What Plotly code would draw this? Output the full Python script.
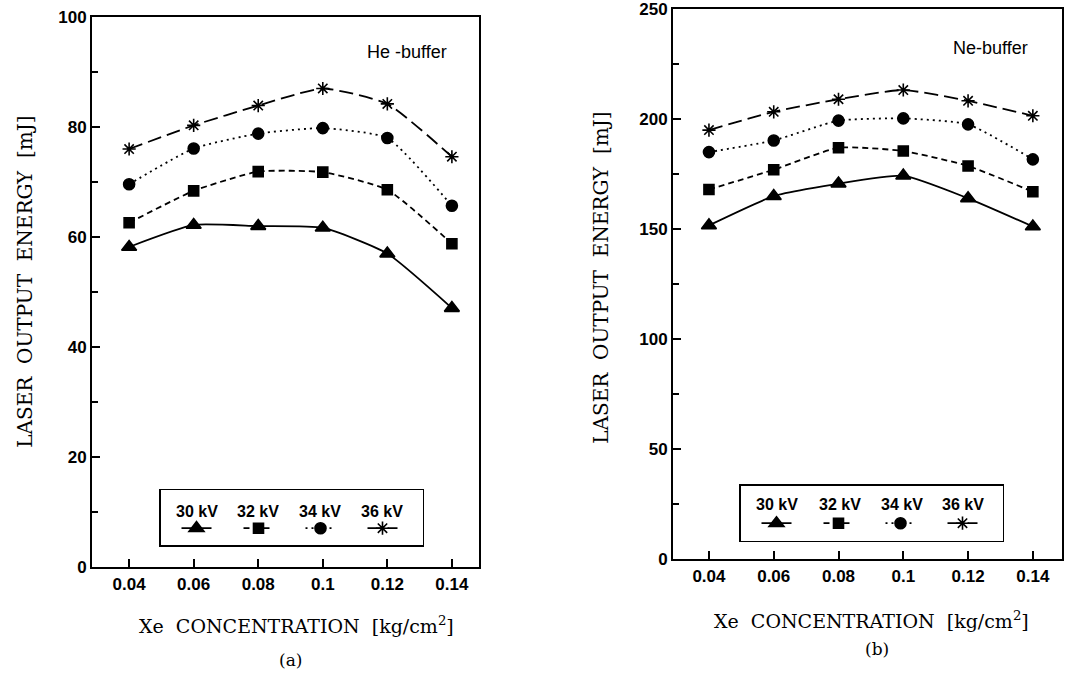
import plotly.graph_objects as go

# ---------------- data ----------------
xe_conc = [0.04, 0.06, 0.08, 0.10, 0.12, 0.14]
voltages = ["30 kV", "32 kV", "34 kV", "36 kV"]

he_30kv = [58.2, 62.2, 62.0, 61.7, 57.0, 47.1]
he_32kv = [62.6, 68.4, 71.9, 71.8, 68.6, 58.8]
he_34kv = [69.6, 76.1, 78.8, 79.8, 78.0, 65.7]
he_36kv = [76.0, 80.3, 83.9, 87.0, 84.2, 74.6]

ne_30kv = [151.7, 165.0, 170.7, 174.3, 164.0, 151.2]
ne_32kv = [168.0, 177.0, 187.0, 185.5, 178.7, 167.0]
ne_34kv = [185.0, 190.3, 199.3, 200.3, 197.6, 181.7]
ne_36kv = [195.0, 203.3, 209.0, 213.2, 208.3, 201.5]

x_ticks = [0.04, 0.06, 0.08, 0.1, 0.12, 0.14]
x_tick_text = ["0.04", "0.06", "0.08", "0.1", "0.12", "0.14"]
he_y_ticks = [0, 20, 40, 60, 80, 100]
ne_y_ticks = [0, 50, 100, 150, 200, 250]

# ---------------- styles ----------------
symbols = ["triangle-up", "square", "circle", "asterisk-open"]
sizes = [13, 10, 11, 11]
dashes = ["solid", "6px,4px", "2px,4px", "14px,6px"]

fig = go.Figure()

he_series = [he_30kv, he_32kv, he_34kv, he_36kv]
ne_series = [ne_30kv, ne_32kv, ne_34kv, ne_36kv]

def style(i):
    return dict(
        line=dict(color="black", width=1.8, dash=dashes[i], shape="spline", smoothing=0.5),
        marker=dict(symbol=symbols[i], size=sizes[i], color="black",
                    line=dict(color="black", width=1.6)),
    )

for i, v in enumerate(voltages):
    fig.add_trace(go.Scatter(x=xe_conc, y=he_series[i], name=v, mode="lines+markers",
                             xaxis="x", yaxis="y", showlegend=False, **style(i)))
for i, v in enumerate(voltages):
    fig.add_trace(go.Scatter(x=xe_conc, y=ne_series[i], name=v, mode="lines+markers",
                             xaxis="x2", yaxis="y2", showlegend=False, **style(i)))
# legend sample entries (no data, label drawn above as text)
for leg, xa, ya in (("legend", "x", "y"), ("legend2", "x2", "y2")):
    for i, v in enumerate(voltages):
        fig.add_trace(go.Scatter(x=[None], y=[None], name="", mode="lines+markers",
                                 xaxis=xa, yaxis=ya, legend=leg, showlegend=True,
                                 hoverinfo="skip", **style(i)))

W, H = 1076, 675
def px(xp):
    return xp / W
def py(yp):
    # vertical placement of a target pixel row
    yr = (yp - 4.0) / 0.98
    return min(1.0, max(0.0, 1 - yr / H))

sans = "Liberation Sans, Arial, sans-serif"
serif = "DejaVu Serif, Liberation Serif, serif"
tick_font = dict(family=sans, size=17, color="black", weight="bold")

axis_common = dict(showgrid=False, zeroline=False, showline=True, mirror=True,
                   linecolor="black", linewidth=2, ticks="inside", ticklen=8,
                   tickwidth=1.5, tickcolor="black", tickfont=tick_font,
                   ticklabeloverflow="allow")

fig.update_layout(
    width=W, height=H, autosize=False,
    margin=dict(l=0, r=0, t=0, b=0, pad=0),
    paper_bgcolor="white", plot_bgcolor="white",
    xaxis=dict(domain=[px(92), px(479)], range=[0.0285, 0.1484],
               tickvals=x_ticks, ticktext=x_tick_text, anchor="y", **axis_common),
    yaxis=dict(domain=[py(567), py(12)], range=[0, 100], tickvals=he_y_ticks,
               minor=dict(dtick=10, ticks="inside", ticklen=6, tickcolor="black", tickwidth=1.5),
               anchor="x", **axis_common),
    xaxis2=dict(domain=[px(673), px(1062)], range=[0.0289, 0.149],
                tickvals=x_ticks, ticktext=x_tick_text, anchor="y2", **axis_common),
    yaxis2=dict(domain=[py(559), py(4)], range=[0, 250], tickvals=ne_y_ticks,
                minor=dict(dtick=25, ticks="inside", ticklen=6, tickcolor="black", tickwidth=1.5),
                anchor="x2", **axis_common),
    showlegend=True,
)

blank_title = "\u00a0" * 58
leg_common = dict(orientation="h", xanchor="left", yanchor="top",
                  bgcolor="white", bordercolor="black", borderwidth=1.5,
                  entrywidth=1, entrywidthmode="pixels", indentation=16,
                  font=dict(size=16, color="black"),
                  title=dict(text=blank_title, side="top",
                             font=dict(family=sans, size=16, color="black")))
fig.update_layout(
    legend=dict(x=px(159), y=py(488), **leg_common),
    legend2=dict(x=px(739), y=py(483), **leg_common),
)

ann = []
def add_text(text, x, y, font, angle=0):
    ann.append(dict(text=text, x=px(x), y=py(y), xref="paper", yref="paper",
                    xanchor="center", yanchor="middle", textangle=angle,
                    showarrow=False, font=font))

add_text("He -buffer", 407, 47, dict(family=sans, size=18, color="black"))
add_text("Ne-buffer", 990, 43, dict(family=sans, size=18, color="black"))

ytitle = "LASER\u00a0\u00a0OUTPUT\u00a0\u00a0ENERGY\u00a0\u00a0[mJ]"
xtitle = "Xe\u00a0\u00a0CONCENTRATION\u00a0\u00a0[kg/cm<sup>2</sup>]"
add_text(ytitle, 25, 279, dict(family=serif, size=20, color="black"), -90)
add_text(ytitle, 601, 275, dict(family=serif, size=20, color="black"), -90)
add_text(xtitle, 297, 625, dict(family=serif, size=19, color="black"))
add_text(xtitle, 871, 620, dict(family=serif, size=19, color="black"))
add_text("(a)", 290, 660, dict(family=serif, size=17, color="black"))
add_text("(b)", 877, 649, dict(family=serif, size=17, color="black"))

leg_font = dict(family=sans, size=16, color="black", weight="bold")
he_leg_x = [197, 258, 320, 382]
ne_leg_x = [777, 840, 902, 963]
for i, v in enumerate(voltages):
    add_text(v, he_leg_x[i], 511, leg_font)
    add_text(v, ne_leg_x[i], 504, leg_font)

fig.update_layout(annotations=ann)

fig.write_html("out.html", config={"responsive": False, "displayModeBar": False})
